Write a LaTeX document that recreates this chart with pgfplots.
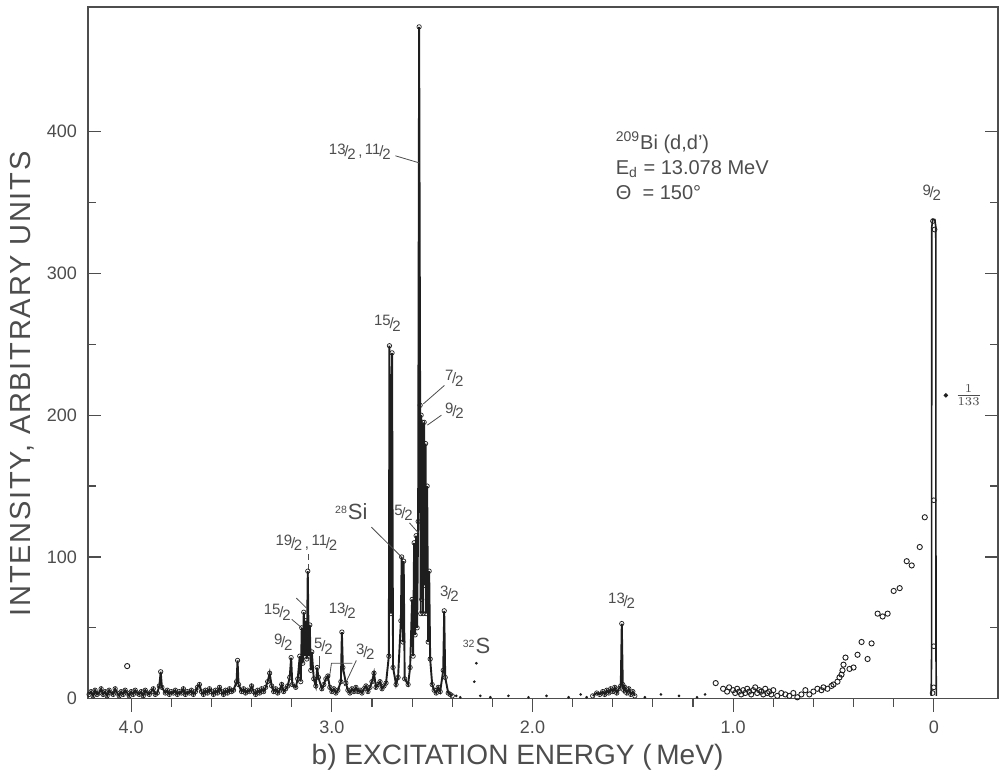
\documentclass[border=0pt]{standalone}
\usepackage{pgfplots}
\pgfplotsset{compat=1.18}
\usepackage{fontspec}
\setmainfont{Liberation Sans}
\definecolor{ink}{HTML}{1E1E1E}
\definecolor{txt}{HTML}{4D4D4D}
% spin label like 13/2 with raised numerator
\newcommand{\jf}[2]{\raisebox{0.35ex}{#1}\kern-0.08em/\kern-0.08em\raisebox{-0.35ex}{#2}}

\begin{document}
\begin{tikzpicture}
\begin{axis}[
  scale only axis, width=454.5pt, height=345.5pt,
  x dir=reverse, xmin=-0.32, xmax=4.215, ymin=0, ymax=488,
  clip=false,
  axis line style={txt, line width=0.7pt},
  xtick={0,1,2,3,4}, xticklabels={0,1.0,2.0,3.0,4.0},
  minor x tick num=4,
  ytick={0,100,200,300,400}, yticklabels={0,100,200,300,400},
  minor y tick num=1,
  xtick pos=bottom, ytick pos=both,
  xtick align=outside, ytick align=inside,
  major tick length=6.5pt, minor tick length=4pt,
  tick style={txt, line width=0.6pt},
  tick label style={font=\fontsize{9}{10}\selectfont, text=txt},
  yticklabel style={xshift=-2pt},
  xticklabel style={yshift=-1pt},
  xlabel={b)\ EXCITATION ENERGY (\,MeV)},
  xlabel style={at={(axis description cs:0.472,-0.085)}, anchor=center,
    font=\fontsize{14}{16}\selectfont, text=txt},
  ylabel={\addfontfeatures{LetterSpace=6}INTENSITY, ARBITRARY UNITS},
  ylabel style={at={(axis description cs:-0.0726,0.455)}, anchor=center,
    font=\fontsize{14.5}{16}\selectfont, text=txt},
]
% baseline and peaks, 4.2 to 2.4 MeV
\addplot[ink, line width=0.95pt, mark=o, mark size=1.1pt,
  mark options={line width=0.35pt, fill=white}] coordinates {
(4.21,3) (4.20,5) (4.19,2) (4.18,6) (4.17,3) (4.16,4) (4.15,7) (4.14,3) (4.13,5) (4.12,2)
(4.11,6) (4.10,4) (4.09,3) (4.08,7) (4.07,4) (4.06,2) (4.05,5) (4.04,3) (4.03,6) (4.02,4)
(4.01,2) (4.00,5) (3.99,3) (3.98,6) (3.97,4) (3.96,3) (3.95,5) (3.94,2) (3.93,6) (3.92,4)
(3.91,3) (3.90,5) (3.89,7) (3.88,3) (3.87,4) (3.86,9) (3.853,19) (3.847,8) (3.83,4) (3.82,6)
(3.81,3) (3.80,5) (3.79,4) (3.78,6) (3.77,3) (3.76,5) (3.75,4) (3.74,7) (3.73,3) (3.72,5)
(3.71,4) (3.70,6) (3.69,3) (3.68,5) (3.67,8) (3.66,10) (3.65,5) (3.64,3) (3.63,6) (3.62,4)
(3.61,7) (3.60,5) (3.59,3) (3.58,6) (3.57,4) (3.56,8) (3.55,5) (3.54,3) (3.53,6) (3.52,4)
(3.51,7) (3.50,5) (3.49,6) (3.475,12) (3.47,27) (3.465,10) (3.45,5) (3.44,7) (3.43,4) (3.42,6)
(3.41,5) (3.40,9) (3.39,5) (3.38,3) (3.37,6) (3.36,4) (3.35,7) (3.34,5) (3.33,8) (3.32,12)
(3.31,18) (3.30,9) (3.29,5) (3.28,7) (3.27,4) (3.26,6) (3.25,10) (3.24,5) (3.23,7) (3.22,9)
(3.21,15) (3.203,29) (3.197,10) (3.18,8) (3.17,14) (3.16,30) (3.155,12) (3.15,50) (3.145,25)
(3.14,61) (3.135,30) (3.13,55) (3.125,28) (3.12,90) (3.115,30) (3.11,52) (3.105,20) (3.10,33)
(3.09,14) (3.08,9) (3.073,22) (3.067,15) (3.05,7) (3.04,10) (3.03,14) (3.02,16) (3.01,8) (3.00,5)
(2.99,7) (2.98,4) (2.97,6) (2.955,12) (2.95,47) (2.945,22) (2.93,11) (2.92,6) (2.91,4) (2.90,7)
(2.89,5) (2.88,8) (2.87,5) (2.86,6) (2.85,4) (2.84,7) (2.83,9) (2.82,5) (2.81,8) (2.80,12)
(2.79,18) (2.78,8) (2.77,10) (2.76,12) (2.75,7) (2.74,9) (2.73,11) (2.716,30) (2.713,249)
(2.706,60) (2.700,244) (2.695,22) (2.68,10) (2.67,15) (2.656,55) (2.652,100) (2.646,40) (2.642,97)
(2.637,14) (2.62,10) (2.61,22)
(2.60,70) (2.595,30) (2.59,110) (2.585,45) (2.58,115) (2.575,50) (2.57,125) (2.565,474)
(2.56,207) (2.557,60) (2.555,200) (2.552,70) (2.548,195) (2.545,60) (2.54,195) (2.537,80)
(2.533,180) (2.53,60) (2.525,150) (2.52,40) (2.515,90) (2.51,28) (2.50,10) (2.49,6) (2.48,4)
(2.47,8) (2.46,5) (2.445,20) (2.44,62) (2.435,15) (2.42,4) (2.41,3) (2.40,2)
};
% group near 1.6 MeV
\addplot[ink, line width=0.95pt, mark=o, mark size=1.1pt,
  mark options={line width=0.35pt, fill=white}] coordinates {
(1.70,2) (1.68,4) (1.665,3) (1.65,5) (1.64,3) (1.63,6) (1.62,4) (1.61,7) (1.60,5) (1.59,8)
(1.58,4) (1.57,7) (1.56,9) (1.555,53) (1.55,10) (1.545,6) (1.54,8) (1.53,4)
(1.52,7) (1.51,3) (1.50,5) (1.49,2)
};
% sparse points
\addplot[only marks, mark=*, mark size=0.45pt, ink] coordinates {
(2.38,2) (2.36,1) (2.29,12) (2.28,25) (2.26,2) (2.21,1) (2.12,2)
(2.02,1) (1.93,2) (1.82,1) (1.76,3) (1.73,1) (1.44,1) (1.36,3) (1.27,2)
(1.18,1) (1.14,3)
};
% open circles, 1.1 MeV to the elastic peak
\addplot[only marks, mark=o, mark size=1.3pt, ink, mark options={line width=0.45pt}] coordinates {
(4.02,23)
(1.087,11) (1.05,7) (1.03,5) (1.02,8) (1.00,6) (0.99,4) (0.98,7) (0.97,5) (0.96,3) (0.95,6)
(0.94,4) (0.93,7) (0.92,5) (0.91,3) (0.90,6) (0.89,8) (0.88,4) (0.87,6) (0.86,5) (0.85,3)
(0.84,7) (0.83,4) (0.82,5) (0.81,3) (0.80,6) (0.78,2) (0.76,4) (0.74,3) (0.72,2) (0.70,4)
(0.68,1) (0.66,3) (0.64,6) (0.62,3) (0.60,5) (0.58,7) (0.56,6) (0.55,8) (0.53,7) (0.51,9)
(0.50,10) (0.48,12) (0.47,15) (0.46,17) (0.455,20) (0.45,24) (0.44,29) (0.42,21) (0.40,22)
(0.38,31) (0.36,40) (0.33,28) (0.31,39) (0.28,60) (0.255,58) (0.23,60) (0.20,76) (0.17,78)
(0.135,97) (0.11,94) (0.07,107) (0.045,128)
};
% elastic peak 9/2, drawn as a narrow double line
\addplot[ink, line width=0.8pt] coordinates {
(0.013,2) (0.011,30) (0.010,333) (0.005,338) (-0.005,338) (-0.010,333) (-0.011,30) (-0.013,2)
};
\addplot[only marks, mark=o, mark size=1.2pt, ink, mark options={fill=white, line width=0.4pt}]
  coordinates {(0.004,337) (-0.004,331) (0,140) (0,37) (0,8) (0.006,4)};
% elastic peak scaled by 1/133
\addplot[only marks, mark=*, mark size=0.9pt, ink] coordinates {(-0.06,214)};

% annotations
\begin{scope}[every node/.style={font=\fontsize{7.5}{9}\selectfont, text=txt, inner sep=0.5pt}]
\node[anchor=east] at (axis cs:2.70,386) {\jf{13}{2}\,,\,\jf{11}{2}};
\draw[txt, line width=0.4pt] (axis cs:2.683,383) -- (axis cs:2.564,378);
\node at (axis cs:2.723,265) {\jf{15}{2}};
\node at (axis cs:2.39,226) {\jf{7}{2}};
\draw[txt, line width=0.4pt] (axis cs:2.439,221) -- (axis cs:2.544,208);
\node at (axis cs:2.389,203) {\jf{9}{2}};
\draw[txt, line width=0.4pt] (axis cs:2.454,200) -- (axis cs:2.524,193);
\node at (axis cs:2.903,132) {\textsuperscript{28}{\fontsize{11}{12}\selectfont Si}};
\draw[txt, line width=0.4pt] (axis cs:2.803,121) -- (axis cs:2.653,100);
\node at (axis cs:2.643,131) {\jf{5}{2}};
\draw[txt, line width=0.4pt] (axis cs:2.613,124) -- (axis cs:2.569,117);
\node at (axis cs:2.414,74) {\jf{3}{2}};
\node at (axis cs:3.127,110) {\jf{19}{2}\,,\,\jf{11}{2}};
\draw[txt, line width=0.4pt, densely dashed] (axis cs:3.117,102) -- (axis cs:3.117,86);
\draw[txt, line width=0.4pt] (axis cs:3.177,71) -- (axis cs:3.127,64);
\node at (axis cs:3.272,61) {\jf{15}{2}};
\draw[txt, line width=0.4pt] (axis cs:3.20,56) -- (axis cs:3.15,50);
\node at (axis cs:3.242,40) {\jf{9}{2}};
\node at (axis cs:3.042,37) {\jf{5}{2}};
\draw[txt, line width=0.4pt] (axis cs:3.062,30) -- (axis cs:3.062,22);
\node at (axis cs:2.948,62) {\jf{13}{2}};
\node at (axis cs:2.833,33) {\jf{3}{2}};
\draw[txt, line width=0.4pt] (axis cs:3.012,15) -- (axis cs:3.002,25) -- (axis cs:2.898,25);
\draw[txt, line width=0.4pt] (axis cs:2.878,27) -- (axis cs:2.938,9);
\node at (axis cs:2.279,37) {\textsuperscript{32}{\fontsize{11}{12}\selectfont S}};
\node at (axis cs:1.556,69) {\jf{13}{2}};
\node at (axis cs:0.01,357) {\jf{9}{2}};
\node[anchor=west, font=\fontsize{8.5}{8.5}\selectfont] at (axis cs:-0.10,214) {$\frac{1}{133}$};
\end{scope}
\node[anchor=west, align=left, font=\fontsize{10}{12.5}\selectfont, text=txt]
  at (axis cs:1.62,376) {\textsuperscript{209}Bi (d,d')\\E\textsubscript{d} = 13.078 MeV\\Θ\ \ = 150°};
\end{axis}
\path ([xshift=-44pt, yshift=-37pt]current axis.south west)
  rectangle ([xshift=0.5pt, yshift=3.5pt]current axis.north east);
\end{tikzpicture}
\end{document}
